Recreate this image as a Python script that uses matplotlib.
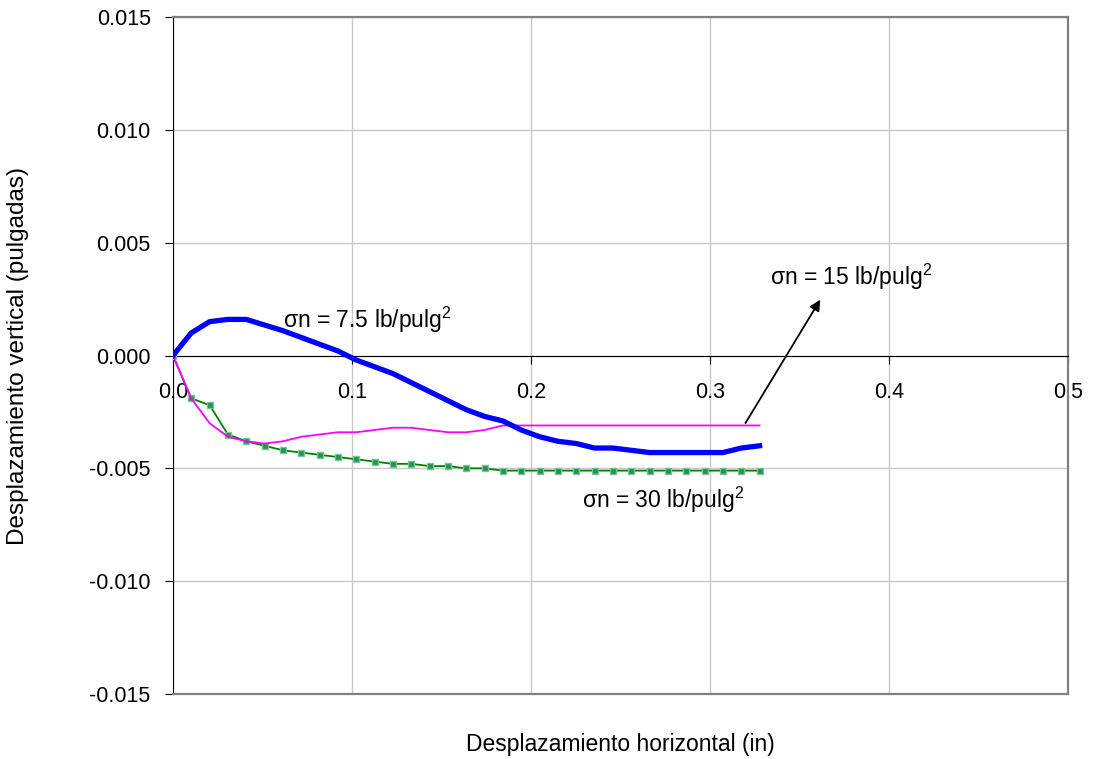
import numpy as np
import matplotlib
matplotlib.use('Agg')
import matplotlib.pyplot as plt
from matplotlib.ticker import FormatStrFormatter

plt.rcParams['font.family'] = ['Liberation Sans', 'DejaVu Sans']
plt.rcParams['mathtext.fontset'] = 'custom'
plt.rcParams['mathtext.rm'] = 'Liberation Sans'
plt.rcParams['axes.unicode_minus'] = False

# desplazamiento horizontal (in), 33 lecturas
paso = 0.01024
desp_h = [i * paso for i in range(33)]

# sigma n = 7.5 lb/pulg2
desp_v_75 = [0.0, 0.0010, 0.0015, 0.0016, 0.0016, 0.00135, 0.0011, 0.0008, 0.0005, 0.0002,
             -0.0002, -0.0005, -0.0008, -0.0012, -0.0016, -0.0020, -0.0024, -0.0027, -0.0029,
             -0.0033, -0.0036, -0.0038, -0.0039, -0.0041, -0.0041, -0.0042, -0.0043, -0.0043,
             -0.0043, -0.0043, -0.0043, -0.0041, -0.0040]

# sigma n = 15 lb/pulg2
desp_v_15 = [0.0, -0.0019, -0.0030, -0.0036, -0.0038, -0.0039, -0.0038, -0.0036, -0.0035,
             -0.0034, -0.0034, -0.0033, -0.0032, -0.0032, -0.0033, -0.0034, -0.0034, -0.0033,
             -0.0031] + [-0.0031] * 14

# sigma n = 30 lb/pulg2
desp_v_30 = [0.0, -0.0019, -0.0022, -0.0035, -0.0038, -0.0040, -0.0042, -0.0043, -0.0044,
             -0.0045, -0.0046, -0.0047, -0.0048, -0.0048, -0.0049, -0.0049, -0.0050, -0.0050] \
            + [-0.0051] * 15

x_ticks = [0.0, 0.1, 0.2, 0.3, 0.4, 0.5]
y_ticks = [-0.015, -0.010, -0.005, 0.000, 0.005, 0.010, 0.015]

fs = 16.5

fig = plt.figure(figsize=(10.96, 7.59), dpi=100)
ax = fig.add_axes([0.1578, 0.0856, 0.8167, 0.892])

ax.plot(desp_h, desp_v_30, color='#008000', lw=1.3, marker='s', ms=4.5,
        mfc='#2e8b57', mec='#6cc890', mew=1.0, zorder=3)
ax.plot(desp_h, desp_v_15, color='#ff00ff', lw=1.3, zorder=4)
ax.plot(desp_h, desp_v_75, color='#0000ff', lw=3.8, zorder=5)

ax.set_xlim(0, 0.5)
ax.set_ylim(-0.015, 0.015)
ax.set_xticks(x_ticks)
ax.set_yticks(y_ticks)
ax.xaxis.set_major_formatter(FormatStrFormatter('%.1f'))
ax.yaxis.set_major_formatter(FormatStrFormatter('%.3f'))
ax.grid(True, color='#c8c8c8', lw=1.0, zorder=0)

# ejes: eje x sobre y = 0
ax.spines['bottom'].set_position(('data', 0))
ax.spines['bottom'].set_color('black')
ax.spines['left'].set_color('black')
for lado in ['top', 'right']:
    ax.spines[lado].set_color('#808080')
    ax.spines[lado].set_linewidth(1.6)
ax.axhline(-0.015, color='#808080', lw=1.6, clip_on=False, zorder=6)

ax.tick_params(axis='x', direction='out', length=6, pad=13, labelsize=15.5)
ax.tick_params(axis='y', direction='out', length=6, pad=10, labelsize=15.5)

ax.set_xlabel('Desplazamiento horizontal (in)', fontsize=fs)
ax.xaxis.set_label_coords(0.5, -0.058)
ax.set_ylabel('Desplazamiento vertical (pulgadas)', fontsize=17.5)
ax.yaxis.set_label_coords(-0.161, 0.5)

# etiquetas de las curvas
ax.text(0.0615, 0.00157, r'σn = 7.5 lb/pulg$^2$', fontsize=fs, va='center', ha='left')
ax.text(0.2285, -0.0064, r'σn = 30 lb/pulg$^2$', fontsize=fs, va='center', ha='left')
ax.annotate(r'σn = 15 lb/pulg$^2$', xy=(0.3624, 0.00258), xytext=(0.3335, 0.0035),
            fontsize=fs, va='center', ha='left')
ax.annotate('', xy=(0.3624, 0.00258), xytext=(0.319, -0.0031),
            arrowprops=dict(arrowstyle='-|>', color='black', lw=1.3, mutation_scale=16))

fig.savefig('out.png', dpi=100)
